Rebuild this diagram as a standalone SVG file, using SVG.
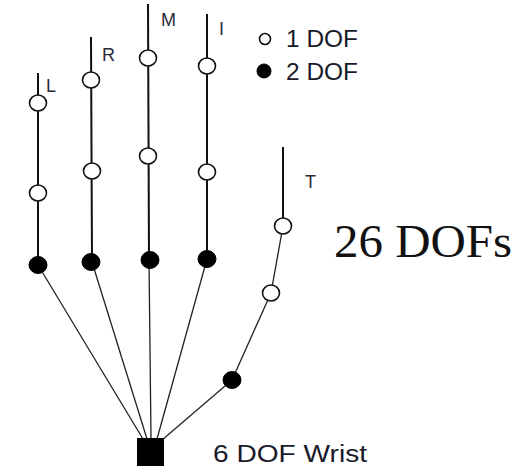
<svg xmlns="http://www.w3.org/2000/svg" width="514" height="470" viewBox="0 0 514 470">
<style>
.bone{stroke:#111;stroke-width:2;fill:none}
.link{stroke:#222;stroke-width:1.3;fill:none}
.j1{fill:#fff;stroke:#111;stroke-width:1.6}
.j2{fill:#000;stroke:#000;stroke-width:1}
.lbl{font-family:"Liberation Sans",Arial,sans-serif;font-size:18px;fill:#2a2a3a}
.leg{font-family:"Liberation Sans",Arial,sans-serif;font-size:23px;fill:#1a1a2a}
.big{font-family:"Liberation Serif","Times New Roman",serif;font-size:46px;fill:#111}
</style>
<rect width="514" height="470" fill="#fff"/>
<g id="connectors">
<line class="bone" x1="38" y1="73" x2="38" y2="265"/>
<line class="bone" x1="91" y1="37" x2="92" y2="262"/>
<line class="bone" x1="148" y1="4" x2="149" y2="260"/>
<line class="bone" x1="207" y1="14" x2="207" y2="259"/>
<line class="bone" x1="283" y1="147" x2="283" y2="226"/>
<line class="link" x1="283" y1="226" x2="271" y2="293"/>
<line class="link" x1="271" y1="293" x2="232" y2="380"/>
<line class="link" x1="38" y1="265" x2="143" y2="439"/>
<line class="link" x1="92" y1="262" x2="147" y2="439"/>
<line class="link" x1="149" y1="260" x2="151" y2="439"/>
<line class="link" x1="207" y1="259" x2="157" y2="439"/>
<line class="link" x1="232" y1="380" x2="162" y2="440"/>
</g>
<g id="finger-L">
<ellipse class="j1" cx="38" cy="103" rx="8.5" ry="8"/>
<ellipse class="j1" cx="38" cy="193" rx="8.5" ry="8"/>
<ellipse class="j2" cx="38" cy="265" rx="9" ry="8.5"/>
<text class="lbl" x="46" y="92">L</text>
</g>
<g id="finger-R">
<ellipse class="j1" cx="91" cy="80" rx="8.5" ry="8"/>
<ellipse class="j1" cx="92" cy="171" rx="8.5" ry="8"/>
<ellipse class="j2" cx="91" cy="262" rx="9" ry="8.5"/>
<text class="lbl" x="102" y="61">R</text>
</g>
<g id="finger-M">
<ellipse class="j1" cx="148" cy="58" rx="8.5" ry="8"/>
<ellipse class="j1" cx="148" cy="156" rx="8.5" ry="8"/>
<ellipse class="j2" cx="150" cy="260" rx="9" ry="8.5"/>
<text class="lbl" x="161" y="26">M</text>
</g>
<g id="finger-I">
<ellipse class="j1" cx="207" cy="66" rx="8.5" ry="8"/>
<ellipse class="j1" cx="207" cy="172" rx="8.5" ry="8"/>
<ellipse class="j2" cx="207" cy="259" rx="9" ry="8.5"/>
<text class="lbl" x="219" y="35">I</text>
</g>
<g id="finger-T">
<ellipse class="j1" cx="283" cy="226" rx="8.5" ry="8"/>
<ellipse class="j1" cx="271" cy="293" rx="8.5" ry="8"/>
<ellipse class="j2" cx="232" cy="380" rx="9" ry="8.5"/>
<text class="lbl" x="305" y="188">T</text>
</g>
<g id="wrist">
<rect x="137" y="438" width="27" height="28" fill="#000"/>
<text class="leg" x="213" y="462" textLength="154" lengthAdjust="spacingAndGlyphs">6 DOF Wrist</text>
</g>
<g id="legend">
<circle class="j1" cx="265" cy="39" r="5.5"/>
<text class="leg" x="286" y="47" textLength="72" lengthAdjust="spacingAndGlyphs">1 DOF</text>
<circle class="j2" cx="264" cy="71" r="7"/>
<text class="leg" x="286" y="80" textLength="72" lengthAdjust="spacingAndGlyphs">2 DOF</text>
</g>
<g id="total">
<text class="big" x="334" y="257" textLength="178" lengthAdjust="spacingAndGlyphs">26 DOFs</text>
</g>
</svg>
